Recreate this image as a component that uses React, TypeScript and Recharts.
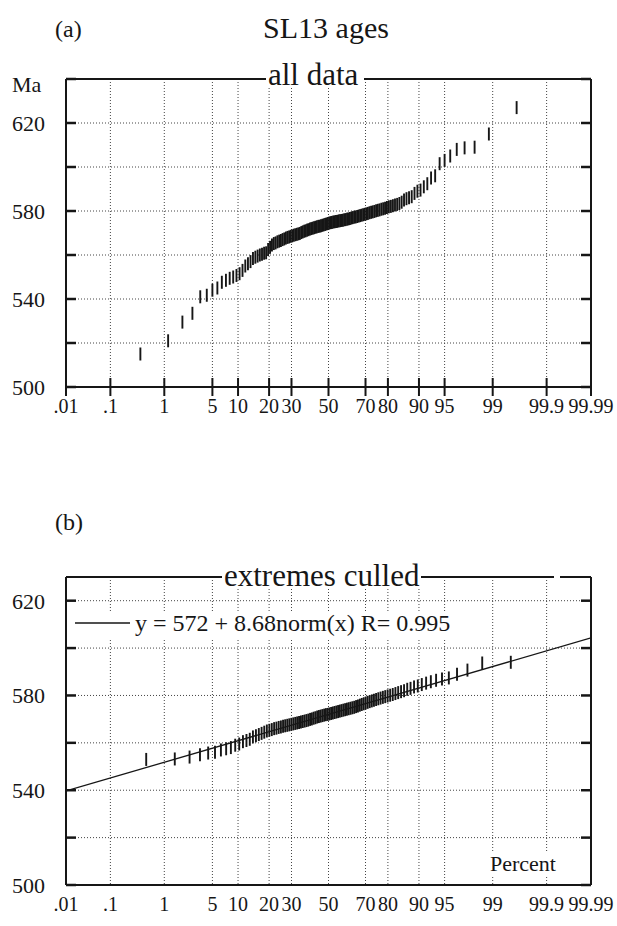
import React from 'react';
import { ScatterChart, Scatter, XAxis, YAxis, CartesianGrid, ReferenceLine } from 'recharts';

// probability axis: percent ticks and their labels
const pctTicks = [0.01, 0.1, 1, 5, 10, 20, 30, 50, 70, 80, 90, 95, 99, 99.9, 99.99];
const pctLabels = ['.01', '.1', '1', '5', '10', '20', '30', '50', '70', '80', '90', '95', '99', '99.9', '99.99'];

// age axis (Ma)
const agesTicksA = [500, 520, 540, 560, 580, 600, 620, 640];
const agesTicksB = [500, 520, 540, 560, 580, 600, 620];
const labelledAges = [500, 540, 580, 620];

// (a) all data, sorted ages in Ma
const agesAll = [
    515, 521, 529.5, 533.5, 541, 541.7, 544, 545, 547.6, 548.5,
    549.4, 550, 550.7, 551.5, 553, 555, 556, 557, 558.4, 559,
    559.5, 560, 560.3, 560.8, 561, 562.5, 563.5, 564.5, 565.2, 565.5,
    566, 566.3, 566.6, 567, 567.3, 567.7, 568, 568.2, 568.5, 568.7,
    569, 569.2, 569.4, 569.6, 569.8, 570.2, 570.5, 570.8, 571, 571.3,
    571.5, 571.8, 572, 572.2, 572.4, 572.6, 572.8, 573, 573.1, 573.3,
    573.5, 573.7, 573.9, 574.1, 574.3, 574.5, 574.7, 574.8, 575, 575.1,
    575.2, 575.3, 575.5, 575.6, 575.7, 575.8, 576, 576.1, 576.3, 576.4,
    576.6, 576.8, 577, 577.2, 577.3, 577.5, 577.7, 577.9, 578.1, 578.3,
    578.5, 578.7, 578.9, 579.2, 579.4, 579.6, 579.8, 580.1, 580.3, 580.5,
    580.8, 581, 581.3, 581.6, 581.9, 582.1, 582.4, 582.7, 583, 583.4,
    584, 585, 585.6, 586, 586.5, 588, 589, 589.5, 591, 592.4,
    595, 596, 601.5, 603, 605, 608, 608.7, 609, 615, 627,
];

// (b) extremes culled, sorted ages in Ma
const agesCulled = [
    553, 553.2, 554, 555, 555.7, 556, 557, 557.5, 558, 559,
    559.5, 560.5, 561, 561.5, 562.5, 563, 563.5, 564, 564.5, 565,
    565.3, 565.6, 566, 566.2, 566.5, 566.7, 567, 567.2, 567.4, 567.6,
    567.8, 568, 568.2, 568.4, 568.6, 568.8, 569, 569.2, 569.4, 569.6,
    569.9, 570.1, 570.4, 570.6, 570.9, 571.1, 571.3, 571.5, 571.7, 571.9,
    572, 572.2, 572.4, 572.6, 572.8, 573, 573.2, 573.4, 573.6, 573.8,
    574, 574.2, 574.4, 574.6, 574.8, 575, 575.3, 575.6, 575.9, 576.2,
    576.5, 576.8, 577.1, 577.4, 577.7, 578, 578.3, 578.6, 578.9, 579.2,
    579.5, 579.8, 580.1, 580.4, 580.8, 581.2, 581.6, 582, 582.6, 583,
    583.6, 584, 584.6, 585.2, 585.8, 586.4, 587, 587.4, 589, 590.7,
    593.7, 594,
];

// fit shown in the legend of (b)
const fitIntercept = 572;
const fitSlope = 8.68;

// inverse normal CDF (Acklam), used for the probability axis
function probit(p: number) {
    const a = [-39.69683028665376, 220.9460984245205, -275.9285104469687, 138.357751867269, -30.66479806614716, 2.506628277459239];
    const b = [-54.47609879822406, 161.5858368580409, -155.6989798598866, 66.80131188771720, -13.28068155288572];
    const c = [-0.007784894002430293, -0.3223964580411365, -2.400758277161838, -2.549671664241958, 4.374664141464968, 2.938163982698783];
    const d = [0.007784695709041462, 0.3224671290700398, 2.445134137142996, 3.754408661907416];
    const pl = 0.02425;
    if (p < pl) {
        const q = Math.sqrt(-2 * Math.log(p));
        return (((((c[0] * q + c[1]) * q + c[2]) * q + c[3]) * q + c[4]) * q + c[5]) / ((((d[0] * q + d[1]) * q + d[2]) * q + d[3]) * q + 1);
    }
    if (p > 1 - pl) {
        const q = Math.sqrt(-2 * Math.log(1 - p));
        return -(((((c[0] * q + c[1]) * q + c[2]) * q + c[3]) * q + c[4]) * q + c[5]) / ((((d[0] * q + d[1]) * q + d[2]) * q + d[3]) * q + 1);
    }
    const q = p - 0.5;
    const r = q * q;
    return (((((a[0] * r + a[1]) * r + a[2]) * r + a[3]) * r + a[4]) * r + a[5]) * q / (((((b[0] * r + b[1]) * r + b[2]) * r + b[3]) * r + b[4]) * r + 1);
}

const zTicks = pctTicks.map(p => probit(p / 100));
const zDomain = [zTicks[0], zTicks[zTicks.length - 1]];

// Hazen plotting positions
const toPoints = (ages: number[]) => ages.map((age, i) => ({ z: probit((i + 0.5) / ages.length), age }));
const pointsA = toPoints(agesAll);
const pointsB = toPoints(agesCulled);
const fitPoints = zDomain.map(z => ({ z, age: fitIntercept + fitSlope * z }));

const FONT = '"Liberation Serif", "Times New Roman", serif';
const INK = '#161616';

const pctLabel = (v: number) => {
    let best = 0;
    zTicks.forEach((t, i) => { if (Math.abs(t - v) < Math.abs(zTicks[best] - v)) best = i; });
    return pctLabels[best];
};

const XTick = ({ x, y, payload, crossing }: any) => (
    <g>
        {crossing && <line x1={x} x2={x} y1={y - 9} y2={y + 9} stroke={INK} strokeWidth={2} />}
        <text x={x} y={y + 12} dy="0.71em" textAnchor="middle" fontFamily={FONT} fontSize={20} fill={INK}>
            {pctLabel(payload.value)}
        </text>
    </g>
);

const YTickLeft = ({ x, y, payload }: any) => (
    <g>
        <line x1={x} x2={x + 10} y1={y} y2={y} stroke={INK} strokeWidth={2.5} />
        {labelledAges.includes(payload.value) && (
            <text x={x - 21} y={y} dy="0.355em" textAnchor="end" fontFamily={FONT} fontSize={22} fill={INK}>
                {payload.value}
            </text>
        )}
    </g>
);

const YTickRight = ({ x, y }: any) => (
    <line x1={x - 10} x2={x} y1={y} y2={y} stroke={INK} strokeWidth={2.5} />
);

const Bar = (props: any) => {
    const { cx, cy } = props;
    if (cx == null || cy == null) return <g />;
    return <line x1={cx} x2={cx} y1={cy - 6.5} y2={cy + 6.5} stroke={INK} strokeWidth={1.9} />;
};

const Empty = () => <g />;

function Panel({ points, yMax, yTicks, crossing, withFit, top, height, marginTop }: any) {
    return (
        <div style={{ position: 'absolute', left: 0, top, width: 617, height }}>
            <ScatterChart width={617} height={height} margin={{ top: marginTop, right: 0, left: 6, bottom: height - marginTop - 308 - 40 }}>
                <CartesianGrid stroke="#444" strokeDasharray="1 2" strokeWidth={1} />
                <XAxis
                    type="number"
                    dataKey="z"
                    domain={zDomain}
                    ticks={zTicks}
                    interval={0}
                    height={40}
                    tickSize={0}
                    tickMargin={0}
                    tickLine={false}
                    axisLine={{ stroke: INK, strokeWidth: 2 }}
                    tick={<XTick crossing={crossing} />}
                    allowDataOverflow
                />
                <YAxis
                    type="number"
                    dataKey="age"
                    domain={[500, yMax]}
                    ticks={yTicks}
                    interval={0}
                    width={60}
                    tickSize={0}
                    tickMargin={0}
                    tickLine={false}
                    axisLine={{ stroke: INK, strokeWidth: 2 }}
                    tick={<YTickLeft />}
                    allowDataOverflow
                />
                <YAxis
                    yAxisId="right"
                    orientation="right"
                    type="number"
                    domain={[500, yMax]}
                    ticks={yTicks}
                    interval={0}
                    width={26}
                    tickSize={0}
                    tickMargin={0}
                    tickLine={false}
                    axisLine={{ stroke: INK, strokeWidth: 2 }}
                    tick={<YTickRight />}
                    allowDataOverflow
                />
                <ReferenceLine y={yMax} stroke={INK} strokeWidth={2} />
                {withFit && (
                    <Scatter data={fitPoints} line={{ stroke: INK, strokeWidth: 1.3 }} shape={<Empty />} isAnimationActive={false} />
                )}
                <Scatter data={points} shape={<Bar />} isAnimationActive={false} />
            </ScatterChart>
        </div>
    );
}

export default function App() {
    return (
        <div style={{ position: 'relative', width: 617, height: 926, background: '#fff', fontFamily: FONT }}>
            <style>{'body{margin:0}'}</style>
            <Panel points={pointsA} yMax={640} yTicks={agesTicksA} crossing withFit={false} top={0} height={440} marginTop={79} />
            <Panel points={pointsB} yMax={630} yTicks={agesTicksB} crossing={false} withFit top={470} height={456} marginTop={107} />
            <svg width={617} height={926} style={{ position: 'absolute', left: 0, top: 0, pointerEvents: 'none' }}>
                <g fontFamily={FONT} fill={INK}>
                    <text x={55} y={37} fontSize={24}>(a)</text>
                    <text x={326} y={38} fontSize={30} textAnchor="middle">SL13 ages</text>
                    <text x={12} y={92} fontSize={22}>Ma</text>
                    <rect x={266} y={66} width={98} height={22} fill="#fff" />
                    <text x={268} y={85} fontSize={31}>all data</text>

                    <text x={55} y={530} fontSize={24}>(b)</text>
                    <rect x={222} y={566} width={199} height={22} fill="#fff" />
                    <text x={224} y={586} fontSize={31}>extremes culled</text>
                    <rect x={554} y={574} width={6} height={6} fill="#fff" />
                    <rect x={70} y={612} width={390} height={26} fill="#fff" />
                    <line x1={75} x2={130} y1={623} y2={623} stroke={INK} strokeWidth={1.3} />
                    <text x={135} y={631} fontSize={24}>y = 572 + 8.68norm(x) R= 0.995</text>
                    <rect x={486} y={852} width={76} height={24} fill="#fff" />
                    <text x={490} y={871} fontSize={22}>Percent</text>
                </g>
            </svg>
        </div>
    );
}
